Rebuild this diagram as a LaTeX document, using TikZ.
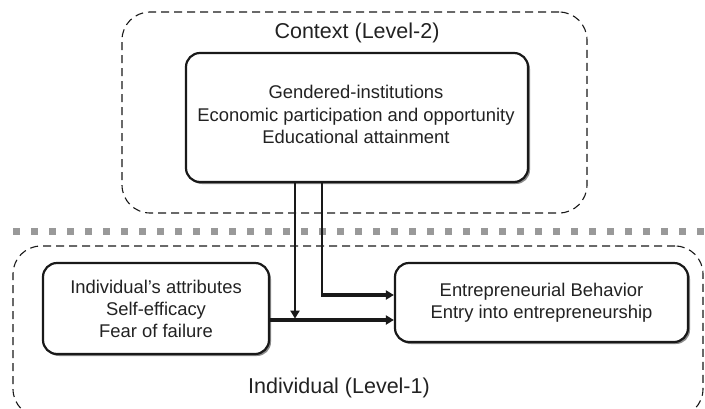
\documentclass[tikz,border=0pt]{standalone}
\usepackage{fontspec}
\setmainfont{Liberation Sans}
\usetikzlibrary{arrows.meta}
\definecolor{dotgray}{HTML}{999999}
\definecolor{shadowgray}{HTML}{8A8A8A}
\definecolor{txt}{HTML}{222222}
\tikzset{
  container/.style={draw=black!90, dashed, dash pattern=on 8pt off 5pt, line width=1.1pt, rounded corners=28pt, inner sep=0pt},
  boxnode/.style={draw=black!90, fill=white, line width=2.2pt, rounded corners=14pt, align=center, inner sep=0pt, text=txt,
     font=\fontsize{18.4}{22}\selectfont},
  shadowbox/.style={fill=shadowgray, rounded corners=14pt, inner sep=0pt},
  levellabel/.style={text=txt, font=\fontsize{21.5}{26}\selectfont, inner sep=0pt},
  vline/.style={line width=2pt, draw=black!90},
  hline/.style={line width=3.4pt, draw=black!90},
  tip/.style={-{Triangle[length=8pt,width=9pt]}},
  separator/.style={draw=dotgray, line width=7pt, dash pattern=on 7pt off 11pt}
}
\begin{document}
\begin{tikzpicture}[x=1pt,y=-1pt]
\useasboundingbox (0,0) rectangle (705,408);
% containers
\node[container, minimum width=465pt, minimum height=201pt] (ctx) at (354.5,112.5) {};
\node[container, minimum width=690pt, minimum height=171pt] (ind) at (358,331.5) {};
% separator
\coordinate (sepL) at (13,231);
\coordinate (sepR) at (708,231);
\draw[separator] (sepL) -- (sepR);
% labels
\node[levellabel] (ctxlab) at (357,33) {Context (Level-2)};
\node[levellabel] (indlab) at (339,388) {Individual (Level-1)};
% shadows
\node[shadowbox, minimum width=342pt, minimum height=129pt] (topsh) at (359,119.5) {};
\node[shadowbox, minimum width=226pt, minimum height=91pt] (leftsh) at (158,310.5) {};
\node[shadowbox, minimum width=293pt, minimum height=79pt] (rightsh) at (543.5,304.5) {};
% boxes
\node[boxnode, minimum width=342pt, minimum height=129pt] (top) at (357,117.5) {};
\node[text=txt, font=\fontsize{18.4}{22.5}\selectfont, align=center, inner sep=0pt] (toptext) at (356,114.5)
  {Gendered-institutions\\Economic participation and opportunity\\Educational attainment};
\node[boxnode, minimum width=226pt, minimum height=91pt] (left) at (156,308.5)
  {Individual’s attributes\\Self-efficacy\\Fear of failure};
\node[boxnode, minimum width=293pt, minimum height=79pt] (right) at (541.5,302.5)
  {Entrepreneurial Behavior\\Entry into entrepreneurship};
% connectors
\coordinate (j1) at (295,320);
\coordinate (j1t) at (295,318.6);
\coordinate (j2) at (322,295);
\coordinate (j2c) at (322,296.7);
\coordinate (j2s) at (321,295);
\draw[vline, tip] (top.south -| j1) -- (j1t);
\draw[hline, tip] (left.east |- j1) -- (right.west |- j1);
\draw[vline] (top.south -| j2) -- (j2c);
\draw[hline, tip] (j2s) -- (right.west |- j2);
\end{tikzpicture}
\end{document}
